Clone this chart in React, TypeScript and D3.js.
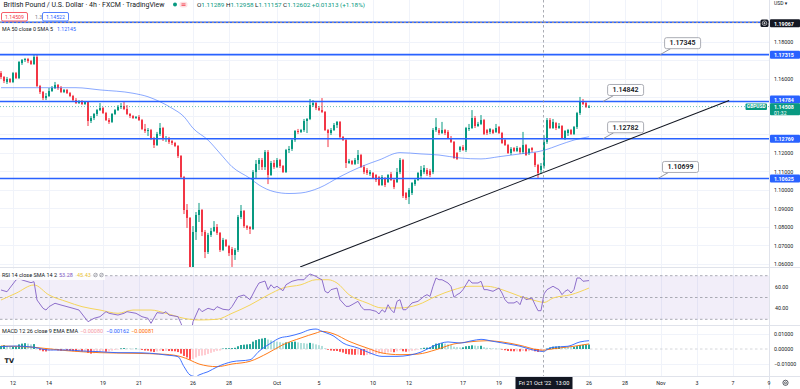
import React from 'react';
import * as d3 from 'd3';

// ---------------- DATA ----------------
// 4h bars of GBPUSD (FXCM). Bar 0 = Mon 12 Sep 2022; six bars per trading day.
const FIRST_BAR = -4;

const opens = [
  1.1632,1.1611,1.1584,1.1600,1.1584,1.1632,1.1605,1.1686,1.1703,1.1708,
  1.1697,1.1681,1.1719,1.1562,1.1530,1.1497,1.1508,1.1535,1.1551,1.1568,
  1.1551,1.1530,1.1541,1.1524,1.1508,1.1486,1.1470,1.1481,1.1465,1.1476,
  1.1373,1.1389,1.1411,1.1432,1.1443,1.1416,1.1378,1.1368,1.1411,1.1432,
  1.1449,1.1454,1.1438,1.1411,1.1400,1.1389,1.1395,1.1378,1.1330,1.1319,
  1.1324,1.1281,1.1243,1.1303,1.1335,1.1276,1.1281,1.1265,1.1254,1.1238,
  1.1184,1.1070,1.0892,1.0849,1.0530,1.0773,1.0865,1.0892,1.0773,1.0665,
  1.0757,1.0778,1.0800,1.0768,1.0676,1.0730,1.0697,1.0681,1.0649,1.0676,
  1.0854,1.0887,1.0805,1.0800,1.0789,1.1097,1.1141,1.1162,1.1124,1.1205,
  1.1081,1.1146,1.1124,1.1162,1.1130,1.1097,1.1216,1.1222,1.1270,1.1319,
  1.1314,1.1324,1.1373,1.1384,1.1459,1.1470,1.1443,1.1432,1.1422,1.1324,
  1.1308,1.1324,1.1351,1.1368,1.1287,1.1270,1.1146,1.1157,1.1141,1.1162,
  1.1189,1.1124,1.1108,1.1086,1.1092,1.1081,1.1070,1.1027,1.1065,1.1043,
  1.1086,1.1054,1.1043,1.1097,1.1162,1.0984,1.0962,1.0984,1.1032,1.1054,
  1.1076,1.1097,1.1108,1.1103,1.1097,1.1324,1.1324,1.1308,1.1324,1.1314,
  1.1281,1.1260,1.1200,1.1216,1.1232,1.1216,1.1330,1.1335,1.1389,1.1346,
  1.1357,1.1378,1.1324,1.1314,1.1324,1.1314,1.1341,1.1308,1.1270,1.1243,
  1.1200,1.1227,1.1211,1.1227,1.1205,1.1243,1.1200,1.1227,1.1200,1.1135,
  1.1108,1.11289,1.1260,1.1378,1.1335,1.1362,1.1335,1.1346,1.1281,1.1308,
  1.1324,1.1303,1.1341,1.1416,1.1481,1.1470,1.1447,
];
const highs = [
  1.1643,1.1616,1.1611,1.1605,1.1638,1.1638,1.1697,1.1708,1.1714,1.1714,
  1.1703,1.1730,1.1730,1.1568,1.1535,1.1524,1.1551,1.1562,1.1584,1.1573,
  1.1562,1.1546,1.1546,1.1530,1.1514,1.1497,1.1486,1.1486,1.1481,1.1481,
  1.1400,1.1416,1.1438,1.1470,1.1449,1.1422,1.1389,1.1416,1.1438,1.1459,
  1.1470,1.1476,1.1459,1.1416,1.1405,1.1400,1.1405,1.1384,1.1357,1.1335,
  1.1330,1.1287,1.1314,1.1362,1.1341,1.1292,1.1287,1.1270,1.1260,1.1243,
  1.1189,1.1076,1.0924,1.0854,1.0805,1.0881,1.0930,1.0897,1.0784,1.0768,
  1.0795,1.0832,1.0816,1.0773,1.0741,1.0735,1.0703,1.0692,1.0686,1.0865,
  1.0919,1.0892,1.0811,1.0805,1.1108,1.1162,1.1173,1.1173,1.1216,1.1216,
  1.1157,1.1162,1.1173,1.1168,1.1135,1.1222,1.1238,1.1276,1.1324,1.1330,
  1.1330,1.1384,1.1389,1.1492,1.1486,1.1481,1.1454,1.1497,1.1427,1.1330,
  1.1335,1.1362,1.1373,1.1373,1.1292,1.1276,1.1168,1.1162,1.1173,1.1216,
  1.1195,1.1135,1.1119,1.1108,1.1097,1.1086,1.1076,1.1081,1.1070,1.1086,
  1.1097,1.1065,1.1119,1.1173,1.1168,1.0989,1.1011,1.1043,1.1060,1.1097,
  1.1130,1.1135,1.1119,1.1114,1.1335,1.1389,1.1335,1.1368,1.1330,1.1324,
  1.1292,1.1265,1.1205,1.1238,1.1243,1.1341,1.1357,1.1432,1.1400,1.1368,
  1.1405,1.1384,1.1330,1.1335,1.1330,1.1357,1.1346,1.1314,1.1276,1.1249,
  1.1232,1.1232,1.1238,1.1232,1.1314,1.1249,1.1227,1.1232,1.1205,1.1141,
  1.1146,1.12958,1.1389,1.1389,1.1384,1.1368,1.1362,1.1351,1.1324,1.1330,
  1.1330,1.1346,1.1422,1.1503,1.1492,1.1481,1.1459,
];
const lows = [
  1.1600,1.1578,1.1573,1.1578,1.1578,1.1600,1.1600,1.1676,1.1692,1.1686,
  1.1676,1.1676,1.1557,1.1519,1.1486,1.1486,1.1503,1.1530,1.1546,1.1541,
  1.1524,1.1524,1.1519,1.1503,1.1481,1.1465,1.1465,1.1459,1.1459,1.1346,
  1.1362,1.1378,1.1400,1.1427,1.1411,1.1373,1.1357,1.1362,1.1405,1.1427,
  1.1438,1.1432,1.1405,1.1389,1.1384,1.1384,1.1373,1.1324,1.1308,1.1292,
  1.1270,1.1227,1.1238,1.1292,1.1265,1.1260,1.1249,1.1243,1.1232,1.1173,
  1.1060,1.0870,1.0795,1.0350,1.0450,1.0730,1.0827,1.0751,1.0632,1.0654,
  1.0746,1.0773,1.0757,1.0665,1.0670,1.0692,1.0643,1.0584,1.0622,1.0665,
  1.0843,1.0795,1.0784,1.0762,1.0784,1.1065,1.1108,1.1108,1.1108,1.1032,
  1.1076,1.1114,1.1119,1.1119,1.1092,1.1092,1.1200,1.1211,1.1260,1.1303,
  1.1308,1.1314,1.1308,1.1378,1.1449,1.1432,1.1427,1.1416,1.1319,1.1232,
  1.1297,1.1319,1.1335,1.1281,1.1265,1.1119,1.1141,1.1135,1.1135,1.1141,
  1.1119,1.1086,1.1081,1.1076,1.1060,1.1043,1.1022,1.1022,1.1016,1.1038,
  1.1049,1.1005,1.1038,1.1086,1.0957,1.0946,1.0924,1.0973,1.1022,1.1049,
  1.1065,1.1086,1.1076,1.1070,1.1086,1.1314,1.1297,1.1303,1.1297,1.1276,
  1.1254,1.1168,1.1162,1.1205,1.1211,1.1205,1.1319,1.1330,1.1335,1.1341,
  1.1351,1.1297,1.1297,1.1303,1.1303,1.1308,1.1303,1.1249,1.1238,1.1195,
  1.1189,1.1205,1.1205,1.1195,1.1195,1.1184,1.1189,1.1205,1.1124,1.1065,
  1.1086,1.11157,1.1249,1.1330,1.1330,1.1324,1.1330,1.1276,1.1270,1.1292,
  1.1297,1.1297,1.1330,1.1405,1.1459,1.1443,1.1443,
];
const closes = [
  1.1611,1.1589,1.1600,1.1584,1.1632,1.1605,1.1692,1.1703,1.1708,1.1697,
  1.1681,1.1719,1.1562,1.1530,1.1497,1.1508,1.1535,1.1551,1.1568,1.1551,
  1.1530,1.1541,1.1524,1.1508,1.1486,1.1470,1.1481,1.1465,1.1476,1.1373,
  1.1389,1.1411,1.1432,1.1443,1.1416,1.1378,1.1368,1.1411,1.1432,1.1449,
  1.1454,1.1438,1.1411,1.1400,1.1389,1.1395,1.1378,1.1330,1.1319,1.1324,
  1.1281,1.1243,1.1303,1.1335,1.1276,1.1281,1.1260,1.1254,1.1238,1.1184,
  1.1070,1.0892,1.0849,1.0530,1.0773,1.0865,1.0892,1.0773,1.0665,1.0757,
  1.0778,1.0800,1.0768,1.0676,1.0730,1.0697,1.0659,1.0649,1.0676,1.0854,
  1.0887,1.0805,1.0795,1.0789,1.1097,1.1141,1.1162,1.1124,1.1205,1.1081,
  1.1146,1.1124,1.1162,1.1130,1.1097,1.1216,1.1222,1.1270,1.1319,1.1314,
  1.1324,1.1373,1.1384,1.1459,1.1470,1.1443,1.1432,1.1422,1.1324,1.1308,
  1.1324,1.1351,1.1368,1.1287,1.1270,1.1146,1.1157,1.1141,1.1162,1.1189,
  1.1124,1.1097,1.1092,1.1097,1.1065,1.1054,1.1027,1.1070,1.1027,1.1081,
  1.1054,1.1016,1.1097,1.1162,1.0968,1.0957,1.1000,1.1038,1.1054,1.1092,
  1.1108,1.1119,1.1086,1.1081,1.1324,1.1341,1.1308,1.1324,1.1308,1.1281,
  1.1260,1.1173,1.1168,1.1232,1.1216,1.1335,1.1335,1.1389,1.1346,1.1357,
  1.1378,1.1303,1.1308,1.1330,1.1308,1.1335,1.1308,1.1254,1.1243,1.1200,
  1.1222,1.1211,1.1227,1.1205,1.1243,1.1189,1.1222,1.1216,1.1135,1.1092,
  1.1130,1.12602,1.1378,1.1335,1.1368,1.1335,1.1346,1.1281,1.1319,1.1324,
  1.1303,1.1341,1.1416,1.1481,1.1465,1.1449,1.14508,
];

// MA 50 (bar, price)
const maPoints: [number, number][] = [
  [-4,1.1553],[7,1.1553],[21,1.1553],[29,1.1541],[40,1.1523],[45,1.1504],[49,1.1477],[53,1.1442],
  [57,1.1396],[60,1.1334],[65,1.1270],[69,1.1198],[73,1.1126],[79,1.1063],[82,1.1027],[87,1.0991],
  [92,1.0981],[96,1.0984],[102,1.1011],[109,1.1072],[116,1.1126],[122,1.1162],[129,1.1202],[136,1.1195],
  [142,1.1189],[149,1.1173],[156,1.1168],[162,1.1180],[169,1.1195],[177,1.12145],[182,1.1243],[187,1.1270],[192,1.1288],
];

// RSI 14 (bar, value)
const rsiPoints: [number, number][] = [
  [-4,56.9],[-2,55.3],[1,66.1],[2,67.6],[3,66.1],[6,63.6],[7,64.5],[8,47.7],[10,40.1],[11,38.5],[12,41.6],
  [14,44.7],[16,43.1],[18,41.6],[20,40.1],[22,38.5],[25,27.8],[27,30.9],[29,32.4],[31,37.0],[32,35.5],
  [35,33.9],[37,35.5],[38,37.0],[41,35.5],[43,32.4],[45,30.9],[46,26.3],[48,36.1],[50,35.5],[51,37.0],
  [52,33.9],[55,32.4],[56,26.3],[57,18.0],[58,16.0],[59,12.0],[60,27.8],[62,40.1],[63,37.0],[65,40.1],
  [67,38.5],[68,41.6],[70,39.2],[72,38.5],[73,41.6],[75,50.7],[77,52.3],[79,48.0],[81,58.7],[82,63.3],
  [84,65.1],[85,57.2],[86,61.7],[87,58.7],[88,60.3],[90,56.2],[91,61.7],[92,63.3],[93,64.9],[95,66.3],
  [97,66.3],[98,69.4],[99,71.6],[101,69.4],[102,67.6],[103,66.3],[104,55.7],[105,54.1],[106,57.2],[108,58.7],
  [109,48.0],[111,41.9],[112,41.9],[113,43.4],[115,46.5],[116,41.9],[117,38.8],[119,38.8],[121,37.3],[122,34.9],
  [123,38.8],[124,36.5],[125,43.4],[126,38.8],[127,36.0],[128,46.5],[129,48.0],[130,38.8],[131,38.8],[132,41.9],
  [133,45.0],[135,46.5],[137,51.1],[138,52.6],[139,51.0],[140,60.3],[141,67.9],[142,66.3],[143,66.3],[145,63.3],
  [146,60.3],[147,50.2],[148,52.6],[149,54.1],[150,57.2],[151,61.7],[152,66.3],[153,63.3],[155,63.3],[156,64.9],
  [157,57.2],[158,57.2],[160,55.7],[161,57.2],[162,58.7],[163,54.1],[164,48.0],[165,45.0],[167,45.0],[168,46.5],
  [169,43.4],[170,51.1],[171,48.0],[173,49.5],[174,43.4],[175,37.9],[176,37.9],[177,53.28],[178,57.2],[180,60.3],
  [181,58.7],[182,57.2],[183,52.6],[184,55.7],[185,57.2],[186,54.1],[187,57.2],[188,67.9],[189,67.9],[190,64.9],[192,65.5],
];
// RSI-based SMA 14 (bar, value)
const rsiSmaPoints: [number, number][] = [
  [-4,47.7],[1,53.9],[7,61.5],[12,52.3],[18,46.1],[23,41.6],[29,38.5],[35,35.5],[40,38.5],[46,38.5],
  [51,35.5],[57,30.9],[62,29.4],[68,30.0],[73,35.5],[79,43.1],[85,52.3],[90,58.7],[96,61.7],[101,66.3],
  [105,66.3],[108,63.3],[112,52.6],[118,45.0],[123,40.4],[129,40.4],[135,43.4],[141,51.1],[147,57.2],[152,60.3],
  [158,60.3],[163,57.2],[169,51.1],[175,46.5],[177,45.43],[180,49.5],[186,52.6],[192,58.7],
];

// MACD (values in thousandths, 1 = 0.001)
const macdPoints: [number, number][] = [
  [-4,1.5],[1,1.95],[7,1.1],[12,-0.65],[18,-0.65],[23,-1.3],[29,-1.76],[35,-2.4],[40,-2.4],[46,-2.8],
  [51,-3.9],[55,-5.0],[57,-11.5],[59,-16.9],[61,-18.0],[62,-16.9],[65,-14.8],[68,-11.7],[73,-8.3],[79,-7.0],
  [82,-1.5],[86,3.9],[89,7.2],[92,8.3],[96,10.4],[99,12.6],[101,13.0],[103,11.5],[107,8.3],[110,3.9],
  [115,0.65],[119,-2.6],[123,-4.8],[128,-4.8],[132,-4.1],[136,-2.0],[140,1.8],[145,4.6],[149,3.9],[153,5.4],
  [156,6.3],[160,5.0],[165,3.3],[169,1.8],[173,-0.46],[177,-1.62],[178,-0.3],[180,1.1],[185,1.8],[189,4.6],[192,5.4],
];
const signalPoints: [number, number][] = [
  [-4,1.95],[7,1.1],[18,-1.1],[29,-2.4],[40,-2.8],[51,-3.5],[56,-5.0],[59,-7.2],[62,-9.8],[68,-11.5],
  [73,-9.8],[79,-8.0],[85,-2.6],[90,2.8],[96,7.2],[101,10.4],[103,11.5],[107,9.8],[112,5.0],[118,0.65],
  [123,-2.6],[129,-3.7],[135,-3.3],[141,-0.46],[147,3.3],[152,4.6],[158,5.4],[163,4.6],[169,2.4],[175,-0.5],
  [177,-0.81],[178,-0.46],[182,0.65],[187,1.8],[192,3.3],
];
// MACD histogram, one value per bar from FIRST_BAR (thousandths)
const macdHist = [
  2,2.5,2,1.5,1.5,1.5,3,3.5,3.8,3.5,
  3,3.2,0.5,-0.8,-1.5,-1.6,-1.3,-1.0,-0.8,-0.9,
  -1.1,-0.9,-1.0,-1.2,-1.4,-1.5,-1.4,-1.5,-1.3,-2.5,
  -3,-2.8,-2.3,-1.8,-1.6,-1.8,-1.6,-1.1,-0.6,-0.1,
  0.4,0.6,0.4,0.3,0.2,0.3,0.1,-0.6,-1.0,-1.1,
  -1.6,-2.0,-1.6,-1.1,-1.3,-1.2,-1.3,-1.4,-1.5,-2.0,
  -3.0,-4.5,-5.5,-7.0,-6.5,-5.5,-4.5,-4.3,-4.0,-3.2,
  -2.5,-1.8,-1.2,-1.0,0.3,0.5,0.5,0.6,0.8,1.8,
  2.6,2.8,3.0,3.2,4.8,5.8,6.4,6.8,7.2,6.2,
  5.6,5.2,4.8,4.4,4.0,4.3,4.4,4.6,4.8,4.3,
  3.9,3.8,3.5,4.0,3.6,3.0,2.5,2.0,0.5,-0.5,
  -1.0,-1.2,-1.3,-1.8,-2.3,-3.2,-3.5,-3.7,-3.8,-3.6,
  -3.9,-4.1,-3.9,-3.6,-3.4,-3.2,-3.1,-2.8,-2.6,-2.2,
  -2.0,-2.1,-1.5,-0.8,-1.5,-1.8,-1.6,-1.2,-0.9,-0.4,
  0.3,0.8,0.9,1.0,2.5,3.5,3.6,3.8,3.5,3.0,
  2.5,1.5,1.2,1.0,1.1,1.8,2.0,2.4,2.2,2.0,
  2.1,1.2,0.8,0.6,0.4,0.3,0.2,-0.3,-0.8,-1.3,
  -1.4,-1.5,-1.5,-1.6,-1.3,-1.5,-1.4,-1.3,-1.5,-1.9,
  -1.6,-0.8,0.3,1.0,1.5,1.6,1.8,1.6,1.5,1.4,
  1.3,1.4,1.9,2.5,2.7,2.8,2.9,
];

// Horizontal drawn levels and callouts
const topLevel = 1.19067;
const levelPrices = [1.17315, 1.14784, 1.12769, 1.10625];
const callouts: { label: string; bar: number; price: number }[] = [
  { label: '1.17345', bar: 215.7, price: 1.17315 },
  { label: '1.14842', bar: 196.7, price: 1.14784 },
  { label: '1.12782', bar: 196.7, price: 1.12769 },
  { label: '1.10699', bar: 215.0, price: 1.10625 },
];
const trendline: [number, number][] = [[95.7, 1.0584], [238.7, 1.1484]];
const lastPrice = 1.14508;
const crosshairBar = 177;

const priceTicks = d3.range(0, 14).map((i) => 1.06 + i * 0.01);
const rsiTicks = [60, 40];
const macdTicks = [10, 0, -10];
const timeTickBars = [0, 12, 30, 42, 60, 72, 88, 102, 120, 132, 150, 162, 192, 204, 216, 228, 240, 252];
const timeTickLabels = ['12', '14', '19', '21', '26', '28', 'Oct', '5', '10', '12', '17', '19', '26', '28', 'Nov', '3', '7', '9'];

// ---------------- STYLE ----------------
const FONT = "Roboto, 'Noto Sans', 'DejaVu Sans', sans-serif";
const UP = '#089981';
const DOWN = '#F23645';
const BLUE = '#2962FF';
const TXT = '#131722';
const GRID = '#F0F3FA';
const BORDER = '#E0E3EB';

export default function App() {
  const PR = 769;
  const x = d3.scaleLinear().domain([0, 192]).range([13, 589]);
  const y = d3.scaleLinear().domain([1.06, 1.18]).range([264, 42]);
  const yR = d3.scaleLinear().domain([30, 70]).range([319.3, 275.7]);
  const yM = d3.scaleLinear().domain([-10, 10]).range([364.35, 333.65]);

  const bars = opens.map((o, i) => ({ b: FIRST_BAR + i, o, h: highs[i], l: lows[i], c: closes[i] }));

  const lineP = (ys: d3.ScaleLinear<number, number>, curve: d3.CurveFactory) =>
    d3.line<[number, number]>().x((d) => x(d[0])).y((d) => ys(d[1])).curve(curve);

  const maPath = lineP(y, d3.curveMonotoneX)(maPoints) || '';
  const rsiPath = lineP(yR, d3.curveLinear)(rsiPoints) || '';
  const rsiSmaPath = lineP(yR, d3.curveMonotoneX)(rsiSmaPoints) || '';
  const macdPath = lineP(yM, d3.curveMonotoneX)(macdPoints) || '';
  const signalPath = lineP(yM, d3.curveMonotoneX)(signalPoints) || '';
  const tlPath = lineP(y, d3.curveLinear)(trendline) || '';

  const fmt5 = d3.format('.5f');
  const cx = x(crosshairBar);

  // price-axis label boxes (centre y) used to hide covered tick labels
  const boxCentres = [y(topLevel) + 1, y(levelPrices[0]), y(levelPrices[1]) - 2, y(levelPrices[2]), y(levelPrices[3]), y(lastPrice) + 2.5];
  const visibleTicks = priceTicks.filter((p) => boxCentres.every((c, i) => Math.abs(y(p) - c) > (i === 5 ? 7.5 : 6)));

  const histColor = (i: number) => {
    const v = macdHist[i];
    const p = i > 0 ? macdHist[i - 1] : v;
    if (v >= 0) return v >= p ? '#26A69A' : '#B2DFDB';
    return v < p ? '#FF5252' : '#FFCDD2';
  };

  const labelBox = (yc: number, fill: string, text: string, key: string) => (
    <g key={key}>
      <rect x={770} y={yc - 4} width={30} height={8} fill={fill} rx={1} />
      <text x={774} y={yc + 0.3} fontSize={5.3} fontWeight={700} fill="#fff" dominantBaseline="central">{text}</text>
    </g>
  );

  return (
    <svg width={800} height={389} viewBox="0 0 800 389" fontFamily={FONT}
      style={{ position: 'absolute', left: 0, top: 0, display: 'block', background: '#fff' }}>
      <defs>
        <clipPath id="cMain"><rect x={0} y={0} width={PR} height={267} /></clipPath>
        <clipPath id="cRsi"><rect x={0} y={268} width={PR} height={57} /></clipPath>
        <clipPath id="cMacd"><rect x={0} y={326} width={PR} height={50} /></clipPath>
      </defs>
      <rect x={0} y={0} width={800} height={389} fill="#fff" />

      {/* vertical grid */}
      {timeTickBars.map((b) => (
        <line key={'vg' + b} x1={Math.round(x(b)) + 0.5} x2={Math.round(x(b)) + 0.5} y1={0} y2={376} stroke={GRID} />
      ))}
      {/* horizontal price grid */}
      {priceTicks.map((p) => (
        <line key={'hg' + p} x1={0} x2={PR} y1={Math.round(y(p)) + 0.5} y2={Math.round(y(p)) + 0.5} stroke={GRID} />
      ))}
      {macdTicks.filter((t) => t !== 0).map((t) => (
        <line key={'mg' + t} x1={0} x2={PR} y1={Math.round(yM(t)) + 0.5} y2={Math.round(yM(t)) + 0.5} stroke={GRID} />
      ))}

      {/* ---------- main pane ---------- */}
      <g clipPath="url(#cMain)">
        {bars.map((d) => {
          const px = x(d.b);
          const col = d.c >= d.o ? UP : DOWN;
          const yt = y(Math.max(d.o, d.c));
          const yb = y(Math.min(d.o, d.c));
          return (
            <g key={'c' + d.b}>
              <line x1={px} x2={px} y1={y(d.h)} y2={y(d.l)} stroke={col} strokeWidth={1} />
              <rect x={px - 1} y={yt} width={2} height={Math.max(1, yb - yt)} fill={col} />
            </g>
          );
        })}
        <path d={maPath} fill="none" stroke={BLUE} strokeOpacity={0.55} strokeWidth={1} />
        <line x1={0} x2={PR} y1={y(lastPrice)} y2={y(lastPrice)} stroke={UP} strokeOpacity={0.6} strokeDasharray="1 2" />
        {levelPrices.map((p) => (
          <line key={'lv' + p} x1={0} x2={PR} y1={y(p)} y2={y(p)} stroke={BLUE} strokeWidth={1.6} />
        ))}
        <line x1={0} x2={PR} y1={y(topLevel)} y2={y(topLevel)} stroke={BLUE} strokeWidth={1.6} />
        <line x1={0} x2={PR} y1={y(topLevel)} y2={y(topLevel)} stroke="#F2B53B" strokeWidth={0.8} strokeDasharray="2 2" />
        <path d={tlPath} stroke="#131722" strokeWidth={1.1} fill="none" />
        {callouts.map((c) => {
          const ax = x(c.bar);
          const ay = y(c.price);
          const bx = ax + 4.5;
          const by = ay - 17;
          return (
            <g key={'co' + c.label}>
              <line x1={ax} y1={ay} x2={bx + 6} y2={by + 11} stroke="#9598A1" strokeWidth={1} />
              <rect x={bx} y={by} width={36} height={11} rx={2} fill="#fff" stroke="#9598A1" strokeWidth={0.8} />
              <text x={bx + 18} y={by + 5.8} fontSize={7} fontWeight={600} fill={TXT} textAnchor="middle" dominantBaseline="central">{c.label}</text>
            </g>
          );
        })}
      </g>

      {/* ---------- header legend ---------- */}
      <text x={3.5} y={4.6} fontSize={7} fill={TXT} dominantBaseline="central" textLength={161} lengthAdjust="spacingAndGlyphs">
        British Pound / U.S. Dollar · 4h · FXCM · TradingView
      </text>
      <circle cx={175} cy={4.6} r={2} fill={UP} />
      <rect x={179.5} y={1.8} width={8} height={5.6} rx={2.5} fill="#FDE2E4" />
      <line x1={181.5} x2={185.5} y1={3.9} y2={3.9} stroke={DOWN} strokeWidth={0.8} />
      <line x1={181.5} x2={185.5} y1={5.4} y2={5.4} stroke={DOWN} strokeWidth={0.8} />
      <text x={197} y={4.6} fontSize={6.2} dominantBaseline="central" textLength={168} lengthAdjust="spacingAndGlyphs">
        <tspan fill={TXT}>O</tspan><tspan fill={UP}>1.11289 </tspan>
        <tspan fill={TXT}>H</tspan><tspan fill={UP}>1.12958 </tspan>
        <tspan fill={TXT}>L</tspan><tspan fill={UP}>1.11157 </tspan>
        <tspan fill={TXT}>C</tspan><tspan fill={UP}>1.12602 +0.01313 (+1.18%)</tspan>
      </text>
      <rect x={1.5} y={12.5} width={26} height={8.5} rx={1.5} fill="#fff" stroke={DOWN} strokeWidth={0.8} />
      <text x={14.5} y={16.8} fontSize={5.2} fill={DOWN} textAnchor="middle" dominantBaseline="central">1.14509</text>
      <text x={38.5} y={16.8} fontSize={5.2} fill="#787B86" textAnchor="middle" dominantBaseline="central">1.3</text>
      <rect x={42.5} y={12.5} width={26} height={8.5} rx={1.5} fill="#fff" stroke={BLUE} strokeWidth={0.8} />
      <text x={55.5} y={16.8} fontSize={5.2} fill={BLUE} textAnchor="middle" dominantBaseline="central">1.14522</text>
      <text x={2} y={29.3} fontSize={5.2} fill={TXT} dominantBaseline="central" textLength={51} lengthAdjust="spacingAndGlyphs">MA 50 close 0 SMA 5</text>
      <text x={57} y={29.3} fontSize={5.2} fill={BLUE} dominantBaseline="central">1.12145</text>

      {/* ---------- RSI pane ---------- */}
      <rect x={0} y={yR(70)} width={PR} height={yR(30) - yR(70)} fill="#7E57C2" fillOpacity={0.1} />
      {[70, 50, 30].map((v) => (
        <line key={'rl' + v} x1={0} x2={PR} y1={yR(v)} y2={yR(v)} stroke="#9598A1" strokeWidth={0.8} strokeDasharray="2.5 2.5" />
      ))}
      <g clipPath="url(#cRsi)">
        <path d={rsiSmaPath} fill="none" stroke="#F5D55B" strokeWidth={1} />
        <path d={rsiPath} fill="none" stroke="#8E6FCB" strokeWidth={1} />
      </g>
      <rect x={0} y={269} width={105} height={11} fill="#fff" fillOpacity={0.85} />
      <text x={2} y={275} fontSize={5.5} fill={TXT} dominantBaseline="central" textLength={55} lengthAdjust="spacingAndGlyphs">RSI 14 close SMA 14 2</text>
      <text x={59} y={275} fontSize={5.5} fill="#7E57C2" dominantBaseline="central">53.28</text>
      <text x={77} y={275} fontSize={5.5} fill="#E9C23A" dominantBaseline="central">45.43</text>
      {[95.5, 101.5].map((ix) => (
        <g key={'ic' + ix}>
          <circle cx={ix} cy={275} r={1.8} fill="none" stroke="#787B86" strokeWidth={0.6} />
          <line x1={ix - 1.3} y1={276.3} x2={ix + 1.3} y2={273.7} stroke="#787B86" strokeWidth={0.6} />
        </g>
      ))}

      {/* ---------- MACD pane ---------- */}
      <line x1={0} x2={PR} y1={yM(0)} y2={yM(0)} stroke="#C9CBD1" strokeWidth={0.8} strokeDasharray="2.5 2.5" />
      <g clipPath="url(#cMacd)">
        {macdHist.map((v, i) => {
          const px = x(FIRST_BAR + i);
          const y0 = yM(0);
          const y1 = yM(v);
          return <rect key={'h' + i} x={px - 1} y={Math.min(y0, y1)} width={2} height={Math.max(0.5, Math.abs(y1 - y0))} fill={histColor(i)} />;
        })}
        <path d={signalPath} fill="none" stroke="#FF6D00" strokeWidth={0.9} />
        <path d={macdPath} fill="none" stroke={BLUE} strokeWidth={0.9} />
      </g>
      <text x={2} y={331} fontSize={5.5} fill={TXT} dominantBaseline="central" textLength={76} lengthAdjust="spacingAndGlyphs">MACD 12 26 close 9 EMA EMA</text>
      <text x={80} y={331} fontSize={5.5} fill="#F59AA4" dominantBaseline="central">−0.00080</text>
      <text x={106} y={331} fontSize={5.5} fill={BLUE} dominantBaseline="central">−0.00162</text>
      <text x={131} y={331} fontSize={5.5} fill="#FF6D00" dominantBaseline="central">−0.00081</text>
      <text x={4.5} y={362.5} fontSize={6.5} fontWeight={900} fill={TXT} fontFamily="'DejaVu Sans', sans-serif">TV</text>

      {/* pane separators and axis border */}
      <line x1={0} x2={800} y1={267.5} y2={267.5} stroke={BORDER} />
      <line x1={0} x2={800} y1={325.5} y2={325.5} stroke={BORDER} />
      <line x1={0} x2={800} y1={376.5} y2={376.5} stroke={BORDER} />
      <line x1={PR + 0.5} x2={PR + 0.5} y1={0} y2={389} stroke={BORDER} />

      {/* crosshair */}
      <line x1={cx - 0.5} x2={cx - 0.5} y1={0} y2={376} stroke="#9598A1" strokeWidth={0.8} strokeDasharray="2.5 2.5" />

      {/* ---------- right axis ---------- */}
      <text x={774} y={3.4} fontSize={5} fill={TXT} dominantBaseline="central">USD ▾</text>
      {visibleTicks.map((p) => (
        <text key={'pt' + p} x={774} y={y(p)} fontSize={5.3} fill={TXT} dominantBaseline="central">{fmt5(p)}</text>
      ))}
      {rsiTicks.map((t) => (
        <text key={'rt' + t} x={775} y={yR(t)} fontSize={5.3} fill={TXT} dominantBaseline="central">{t.toFixed(2)}</text>
      ))}
      {macdTicks.map((t) => (
        <text key={'mt' + t} x={774} y={yM(t)} fontSize={5.3} fill={TXT} dominantBaseline="central">{(t < 0 ? '−' : '') + fmt5(Math.abs(t) / 1000)}</text>
      ))}
      <rect x={760.5} y={19.5} width={8} height={7.5} rx={1.5} fill="#131722" />
      <circle cx={764.5} cy={23.2} r={2.3} fill="none" stroke="#fff" strokeWidth={0.6} />
      <line x1={763.3} x2={765.7} y1={23.2} y2={23.2} stroke="#fff" strokeWidth={0.6} />
      <line x1={764.5} x2={764.5} y1={22} y2={24.4} stroke="#fff" strokeWidth={0.6} />
      {labelBox(y(topLevel) + 1, '#131722', fmt5(topLevel), 'lbTop')}
      {labelBox(y(levelPrices[0]), BLUE, fmt5(levelPrices[0]), 'lb0')}
      {labelBox(y(levelPrices[1]) - 2, BLUE, fmt5(levelPrices[1]), 'lb1')}
      {labelBox(y(levelPrices[2]), BLUE, fmt5(levelPrices[2]), 'lb2')}
      {labelBox(y(levelPrices[3]), BLUE, fmt5(levelPrices[3]), 'lb3')}
      <rect x={770} y={103.3} width={30} height={12} fill={UP} rx={1} />
      <text x={774} y={107.4} fontSize={5.3} fontWeight={700} fill="#fff" dominantBaseline="central">{fmt5(lastPrice)}</text>
      <text x={774} y={112.6} fontSize={5} fill="#fff" dominantBaseline="central">01:32</text>
      <rect x={745.5} y={103.5} width={21.5} height={6.5} fill={UP} rx={1} />
      <text x={756.2} y={106.9} fontSize={4.8} fontWeight={700} fill="#fff" textAnchor="middle" dominantBaseline="central">GBPUSD</text>

      {/* ---------- time axis ---------- */}
      {timeTickBars.map((b, i) => (
        <text key={'tt' + b} x={x(b)} y={382.8} fontSize={5.3} fill={TXT} textAnchor="middle" dominantBaseline="central">{timeTickLabels[i]}</text>
      ))}
      <rect x={cx - 28.5} y={377} width={57} height={12} fill="#131722" />
      <text x={cx} y={382.8} fontSize={5.6} fill="#fff" textAnchor="middle" dominantBaseline="central" style={{ whiteSpace: 'pre' }}>{"Fri 21 Oct '22   13:00"}</text>
      <circle cx={785.5} cy={382.8} r={2.6} fill="none" stroke="#131722" strokeWidth={0.7} />
      <circle cx={785.5} cy={382.8} r={1} fill="none" stroke="#131722" strokeWidth={0.6} />
    </svg>
  );
}
